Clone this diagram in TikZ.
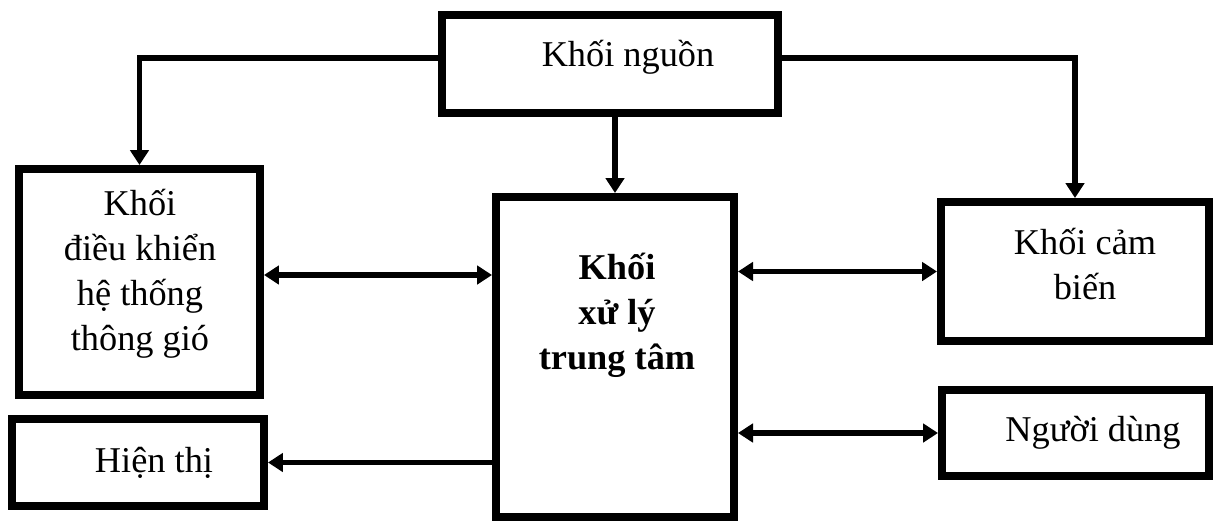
\documentclass[tikz,border=0pt]{standalone}
\usepackage{fontspec}
\setmainfont{Liberation Serif}
\usetikzlibrary{arrows.meta}
\begin{document}
\begin{tikzpicture}[x=0.03cm, y=-0.03cm,
    khoi/.style={draw, line width=6.8pt, inner sep=0pt},
    chu/.style={font=\fontsize{31}{38.4}\selectfont, align=center, inner sep=0pt},
    muiten/.style={line width=5pt, -{Triangle[length=0.45cm,width=0.55cm]}},
    haimui/.style={line width=5pt, {Triangle[length=0.45cm,width=0.55cm]}-{Triangle[length=0.45cm,width=0.55cm]}}]
    \useasboundingbox (0,0) rectangle (1216,524);

    \node[khoi, minimum width=10.08cm, minimum height=2.94cm](nguon) at (610,64){};
    \node[khoi, minimum width=7.23cm, minimum height=6.78cm](dieukhien) at (139.5,282){};
    \node[khoi, minimum width=7.14cm, minimum height=9.6cm](xuly) at (615,357){};
    \node[khoi, minimum width=8.04cm, minimum height=4.17cm](cambien) at (1075,271.5){};
    \node[khoi, minimum width=7.56cm, minimum height=2.61cm](hienthi) at (138,462.5){};
    \node[khoi, minimum width=8.01cm, minimum height=2.58cm](nguoidung) at (1075.5,433){};

    \node[chu](nguon_chu) at (628,57){Khối nguồn};
    \node[chu](dieukhien_chu) at (140,274){Khối\\điều khiển\\hệ thống\\thông gió};
    \node[chu, font=\fontsize{31}{38.4}\selectfont\bfseries](xuly_chu) at (617,315){Khối\\xử lý\\trung tâm};
    \node[chu](cambien_chu) at (1085,264){Khối cảm\\biến};
    \node[chu](hienthi_chu) at (154,463){Hiện thị};
    \node[chu](nguoidung_chu) at (1093,433){Người dùng};

    \coordinate(trai) at ([yshift=0.21cm]dieukhien.east);

    \draw[muiten]([yshift=0.18cm]nguon.west) -| (dieukhien.north);
    \draw[muiten]([yshift=0.18cm]nguon.east) -| (cambien.north);
    \draw[muiten](nguon.south -| xuly.north) -- (xuly.north);
    \draw[haimui](trai) -- (trai -| xuly.west);
    \draw[haimui](xuly.east |- cambien.west) -- (cambien.west);
    \draw[haimui](xuly.east |- nguoidung.west) -- (nguoidung.west);
    \draw[muiten](xuly.west |- hienthi.east) -- (hienthi.east);
  \end{tikzpicture}
\end{document}
